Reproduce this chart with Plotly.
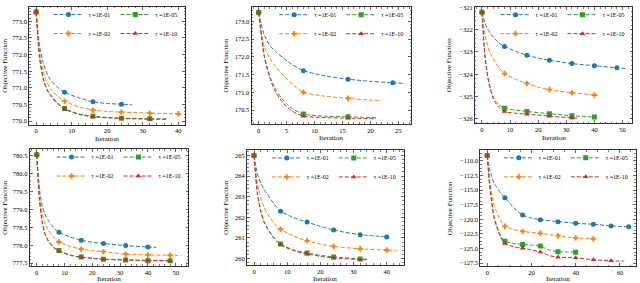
import plotly.graph_objects as go

W, H = 640, 283

# ---------------- data ----------------
labels = ["τ =1E-01", "τ =1E-02", "τ =1E-05", "τ =1E-10"]

# Panel 1
p1_t1_it = [0, 1, 2, 3, 4, 6, 8, 12, 16, 20, 24, 27]
p1_t1_obj = [773.28, 772.25, 771.75, 771.45, 771.25, 771.02, 770.87, 770.70, 770.58, 770.53, 770.51, 770.49]
p1_t2_it = [0, 1, 2, 3, 4, 6, 8, 12, 16, 20, 24, 32, 40]
p1_t2_obj = [773.28, 772.05, 771.50, 771.17, 770.98, 770.75, 770.60, 770.43, 770.33, 770.29, 770.27, 770.24, 770.22]
p1_t5_it = [0, 1, 2, 3, 4, 6, 8, 12, 16, 20, 24, 32, 37]
p1_t5_obj = [773.28, 771.90, 771.30, 770.98, 770.80, 770.55, 770.38, 770.22, 770.15, 770.11, 770.09, 770.07, 770.07]
p1_t10_it = [0, 1, 2, 3, 4, 6, 8, 12, 16, 20, 24, 32, 37]
p1_t10_obj = [773.28, 771.88, 771.27, 770.95, 770.77, 770.52, 770.36, 770.20, 770.13, 770.10, 770.08, 770.06, 770.05]

# Panel 2
p2_t1_it = [0, 1, 2, 3, 4, 6, 8, 12, 16, 20, 24, 26]
p2_t1_obj = [173.25, 172.62, 172.32, 172.15, 172.02, 171.78, 171.61, 171.46, 171.37, 171.31, 171.27, 171.25]
p2_t2_it = [0, 1, 2, 3, 4, 6, 8, 12, 16, 20, 22]
p2_t2_obj = [173.25, 172.28, 171.96, 171.73, 171.55, 171.23, 171.00, 170.89, 170.83, 170.78, 170.77]
p2_t5_it = [0, 1, 2, 3, 4, 5, 6, 8, 12, 16, 21]
p2_t5_obj = [173.25, 172.05, 171.46, 171.09, 170.86, 170.68, 170.54, 170.39, 170.33, 170.31, 170.29]
p2_t10_it = [0, 1, 2, 3, 4, 5, 6, 8, 12, 16, 21]
p2_t10_obj = [173.25, 172.00, 171.40, 171.02, 170.78, 170.60, 170.47, 170.33, 170.29, 170.27, 170.26]

# Panel 3
p3_t1_it = [0, 1, 2, 4, 6, 8, 12, 16, 20, 24, 32, 40, 48, 51]
p3_t1_obj = [-321.22, -321.67, -321.96, -322.34, -322.59, -322.75, -322.97, -323.15, -323.27, -323.37, -323.52, -323.62, -323.71, -323.74]
p3_t2_it = [0, 1, 2, 3, 4, 6, 8, 12, 16, 20, 24, 32, 40, 41]
p3_t2_obj = [-321.22, -322.19, -322.71, -323.08, -323.30, -323.70, -323.97, -324.23, -324.41, -324.58, -324.69, -324.83, -324.93, -324.95]
p3_t5_it = [0, 1, 2, 3, 4, 5, 6, 8, 12, 16, 24, 32, 40]
p3_t5_obj = [-321.22, -323.08, -324.04, -324.63, -325.00, -325.23, -325.38, -325.52, -325.61, -325.67, -325.77, -325.86, -325.92]
p3_t10_it = [0, 1, 2, 3, 4, 5, 6, 8, 12, 16, 24, 32, 34]
p3_t10_obj = [-321.22, -323.12, -324.10, -324.70, -325.08, -325.33, -325.48, -325.67, -325.75, -325.79, -325.88, -325.96, -325.97]

# Panel 4
p4_t1_it = [0, 1, 2, 3, 4, 6, 8, 12, 16, 20, 24, 32, 40, 43]
p4_t1_obj = [780.52, 779.55, 779.09, 778.86, 778.71, 778.50, 778.36, 778.23, 778.14, 778.08, 778.05, 777.99, 777.95, 777.94]
p4_t2_it = [0, 1, 2, 3, 4, 6, 8, 12, 16, 20, 24, 32, 40, 48, 52]
p4_t2_obj = [780.52, 779.41, 778.86, 778.59, 778.44, 778.23, 778.09, 777.97, 777.89, 777.85, 777.82, 777.75, 777.73, 777.72, 777.71]
p4_t5_it = [0, 1, 2, 3, 4, 6, 8, 12, 16, 20, 24, 32, 40, 48]
p4_t5_obj = [780.52, 779.27, 778.64, 778.32, 778.15, 777.95, 777.85, 777.73, 777.67, 777.64, 777.61, 777.59, 777.57, 777.57]
p4_t10_it = [0, 1, 2, 3, 4, 6, 8, 12, 16, 20, 24, 32, 40, 48]
p4_t10_obj = [780.52, 779.25, 778.62, 778.30, 778.13, 777.94, 777.84, 777.72, 777.67, 777.63, 777.61, 777.59, 777.58, 777.57]

# Panel 5
p5_t1_it = [0, 1, 2, 3, 4, 6, 8, 12, 16, 20, 24, 32, 40]
p5_t1_obj = [265.00, 264.14, 263.67, 263.36, 263.12, 262.66, 262.30, 261.98, 261.77, 261.56, 261.38, 261.16, 261.05]
p5_t2_it = [0, 1, 2, 3, 4, 6, 8, 12, 16, 20, 24, 32, 40, 43]
p5_t2_obj = [265.00, 263.67, 262.97, 262.50, 262.19, 261.72, 261.42, 261.09, 260.86, 260.70, 260.59, 260.47, 260.41, 260.38]
p5_t5_it = [0, 1, 2, 3, 4, 6, 8, 12, 16, 20, 24, 32, 34]
p5_t5_obj = [265.00, 263.20, 262.34, 261.80, 261.48, 261.02, 260.70, 260.42, 260.27, 260.16, 260.08, 259.98, 259.97]
p5_t10_it = [0, 1, 2, 3, 4, 6, 8, 12, 16, 20, 24, 32, 34]
p5_t10_obj = [265.00, 263.15, 262.30, 261.77, 261.45, 260.99, 260.67, 260.38, 260.22, 260.11, 260.03, 259.95, 259.94]

# Panel 6
p6_t1_it = [0, 1, 2, 3, 4, 6, 8, 12, 16, 20, 24, 32, 40, 48, 56, 64]
p6_t1_obj = [-109.05, -111.28, -112.68, -113.69, -114.36, -115.47, -116.31, -117.99, -119.27, -119.78, -120.06, -120.39, -120.67, -120.84, -121.12, -121.28]
p6_t2_it = [0, 1, 2, 3, 4, 6, 8, 12, 16, 24, 32, 40, 48]
p6_t2_obj = [-109.05, -113.24, -115.47, -117.43, -118.55, -120.22, -121.17, -121.73, -122.07, -122.40, -122.79, -123.18, -123.35]
p6_t5_it = [0, 1, 2, 3, 4, 6, 8, 12, 16, 20, 24, 28, 32, 36, 40]
p6_t5_obj = [-109.05, -113.80, -116.87, -119.39, -120.78, -122.74, -123.74, -124.13, -124.30, -124.41, -124.58, -125.25, -125.53, -125.59, -125.64]
p6_t10_it = [0, 1, 2, 3, 4, 6, 8, 12, 16, 20, 24, 28, 32, 40, 48, 56, 62]
p6_t10_obj = [-109.05, -113.90, -117.00, -119.60, -121.00, -123.00, -124.13, -124.69, -124.97, -125.25, -125.59, -126.20, -126.48, -126.59, -126.93, -127.09, -127.15]

marker_every = 8

# ---------------- styling / layout ----------------
colors = ["#1f77b4", "#ff7f0e", "#2ca02c", "#d62728"]
symbols = ["circle", "cross", "square", "triangle-up"]
msizes = [5, 4.6, 5, 5]
FONT = "Liberation Serif"

panels = [
    dict(series=[(p1_t1_it, p1_t1_obj), (p1_t2_it, p1_t2_obj), (p1_t5_it, p1_t5_obj), (p1_t10_it, p1_t10_obj)],
         box=(29.0, 0.7, 185.4, 121.4), xd=10, xm=2, yd=0.5, ym=0.1, yfmt=".1f", ytx=5),
    dict(series=[(p2_t1_it, p2_t1_obj), (p2_t2_it, p2_t2_obj), (p2_t5_it, p2_t5_obj), (p2_t10_it, p2_t10_obj)],
         box=(251.4, 1.1, 411.2, 120.5), xd=5, xm=1, yd=0.5, ym=0.1, yfmt=".1f", ytx=226),
    dict(series=[(p3_t1_it, p3_t1_obj), (p3_t2_it, p3_t2_obj), (p3_t5_it, p3_t5_obj), (p3_t10_it, p3_t10_obj)],
         box=(474.8, 1.0, 632.5, 120.0), xd=10, xm=2, yd=1, ym=0.2, yfmt="d", ytx=449),
    dict(series=[(p4_t1_it, p4_t1_obj), (p4_t2_it, p4_t2_obj), (p4_t5_it, p4_t5_obj), (p4_t10_it, p4_t10_obj)],
         box=(29.5, 146.5, 188.5, 265.6), xd=10, xm=2, yd=0.5, ym=0.1, yfmt=".1f", ytx=5),
    dict(series=[(p5_t1_it, p5_t1_obj), (p5_t2_it, p5_t2_obj), (p5_t5_it, p5_t5_obj), (p5_t10_it, p5_t10_obj)],
         box=(246.9, 147.4, 403.8, 264.6), xd=10, xm=2, yd=1, ym=0.2, yfmt="d", ytx=226),
    dict(series=[(p6_t1_it, p6_t1_obj), (p6_t2_it, p6_t2_obj), (p6_t5_it, p6_t5_obj), (p6_t10_it, p6_t10_obj)],
         box=(480.2, 147.3, 635.8, 266.0), xd=20, xm=5, yd=2.5, ym=0.625, yfmt=".1f", ytx=450),
]

fig = go.Figure()
layout = dict(
    width=W, height=H, margin=dict(l=0, r=0, t=0, b=0),
    paper_bgcolor="white", plot_bgcolor="white",
    font=dict(family=FONT, size=6.5, color="black"),
    showlegend=True, annotations=[],
)

for k, p in enumerate(panels, start=1):
    sfx = "" if k == 1 else str(k)
    xa, ya = "x" + sfx, "y" + sfx
    legname = "legend" + sfx
    for s, (its, objs) in enumerate(p["series"]):
        c = colors[s]
        fig.add_trace(go.Scatter(
            x=its, y=objs, mode="lines", xaxis=xa, yaxis=ya,
            line=dict(color=c, width=1, dash="4px,2px", shape="spline", smoothing=0.7),
            showlegend=False, hoverinfo="skip"))
        mx = [i for i in its if i % marker_every == 0]
        my = [o for i, o in zip(its, objs) if i % marker_every == 0]
        fig.add_trace(go.Scatter(
            x=mx, y=my, mode="markers", xaxis=xa, yaxis=ya,
            marker=dict(color=c, size=msizes[s], symbol=symbols[s]),
            showlegend=False))
        fig.add_trace(go.Scatter(
            x=[None], y=[None], mode="lines+markers", xaxis=xa, yaxis=ya,
            name=labels[s], legend=legname,
            legendgroup=f"p{k}g{0 if s < 2 else 1}",
            line=dict(color=c, width=1, dash="4px,2px"),
            marker=dict(color=c, size=msizes[s], symbol=symbols[s])))

    x0, y0, x1, y1 = p["box"]
    allx = [v for its, _ in p["series"] for v in its]
    ally = [v for _, objs in p["series"] for v in objs]
    xmin, xmax = min(allx), max(allx)
    ymin, ymax = min(ally), max(ally)
    xp, yp = 0.05 * (xmax - xmin), 0.05 * (ymax - ymin)
    common = dict(showline=True, linecolor="black", linewidth=0.8, mirror="allticks",
                  ticks="inside", ticklen=3, tickwidth=0.6, tickcolor="black",
                  showgrid=False, zeroline=False, automargin=False,
                  tickfont=dict(family=FONT, size=6.5, color="black"))
    layout["xaxis" + sfx] = dict(
        common, domain=[x0 / W, x1 / W], anchor=ya, range=[xmin - xp, xmax + xp],
        tick0=0, dtick=p["xd"],
        minor=dict(ticks="inside", ticklen=1.6, tickwidth=0.5, tickcolor="black", dtick=p["xm"], tick0=0))
    layout["yaxis" + sfx] = dict(
        common, domain=[1 - y1 / H, 1 - y0 / H], anchor=xa, range=[ymin - yp, ymax + yp],
        tick0=0, dtick=p["yd"], tickformat=p["yfmt"],
        minor=dict(ticks="inside", ticklen=1.6, tickwidth=0.5, tickcolor="black", dtick=p["ym"], tick0=0))
    layout[legname] = dict(
        orientation="h", traceorder="grouped", xanchor="right", yanchor="top",
        x=(x1 - 3) / W, y=1 - (y0 - 7) / H, bgcolor="rgba(0,0,0,0)", borderwidth=0,
        font=dict(family=FONT, size=6, color="black"), itemwidth=30)
    # axis titles
    layout["annotations"].append(dict(
        text="Objective Function", xref="paper", yref="paper",
        x=p["ytx"] / W, y=1 - (y0 + y1) / 2 / H, textangle=-90, showarrow=False,
        xanchor="center", yanchor="middle", font=dict(family=FONT, size=7, color="black")))
    ty = min(y1 + 14.5, H - 4.5)
    layout["annotations"].append(dict(
        text="Iteration", xref="paper", yref="paper",
        x=(x0 + x1) / 2 / W, y=1 - ty / H, showarrow=False,
        xanchor="center", yanchor="middle", font=dict(family=FONT, size=7, color="black")))

fig.update_layout(**layout)
fig.write_html("out.html", config={"displayModeBar": False, "staticPlot": True},
               post_script="document.body.style.margin='0';document.body.style.padding='0';")
